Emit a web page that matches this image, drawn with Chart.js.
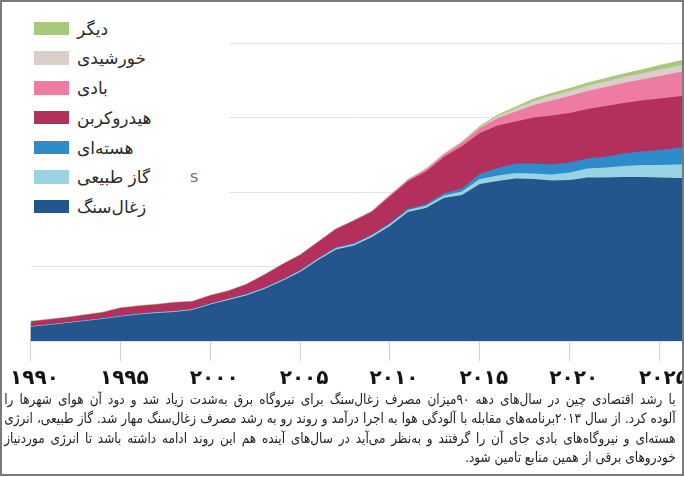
<!DOCTYPE html>
<html><head><meta charset="utf-8">
<script src="https://cdn.jsdelivr.net/npm/chart.js@4"></script>
<style>
html,body{margin:0;padding:0;background:#fff;}
#wrap{position:relative;width:684px;height:477px;overflow:hidden;background:#fff;font-family:"DejaVu Sans",sans-serif;}
#frame{position:absolute;left:0;top:0;width:684px;height:476px;box-sizing:border-box;border:2px solid #7a7a7a;pointer-events:none;z-index:5;}
#c{position:absolute;left:0;top:0;}
#legend{position:absolute;left:0;top:0;width:229px;height:236px;background:#fff;z-index:2;}
.lbox{position:absolute;left:34px;width:35px;height:13.5px;}
.ltxt{position:absolute;left:77px;font-family:"DejaVu Sans",sans-serif;font-size:17px;line-height:22px;color:#2a2a2a;direction:rtl;white-space:nowrap;}
#s{position:absolute;left:190px;top:170px;font-size:13px;color:#666;font-family:"DejaVu Sans",sans-serif;}
#cap{position:absolute;right:8px;top:390px;transform-origin:right top;direction:rtl;z-index:3;}
.cl{font-family:"DejaVu Sans",sans-serif;font-size:14px;line-height:19.3px;color:#1e1e1e;white-space:normal;}
.cl.j{text-align:justify;text-align-last:justify;}
.cl.r{text-align:right;}
</style>
</head><body>
<div id="wrap">
<canvas id="c" width="684" height="477"></canvas>
<div id="legend"></div>
<div id="cap"></div>
<div id="frame"></div>
</div>
<script>
// ---- data (TWh) ----
const years = [1990,1991,1992,1993,1994,1995,1996,1997,1998,1999,2000,2001,2002,2003,2004,2005,2006,2007,2008,2009,2010,2011,2012,2013,2014,2015,2016,2017,2018,2019,2020,2021,2022,2023,2024,2025,2026,2027];
const coal    = [384,430,483,537,591,658,712,752,779,832,980,1101,1222,1396,1611,1853,2175,2457,2564,2792,3088,3464,3571,3840,3920,4215,4296,4363,4350,4309,4323,4390,4390,4403,4403,4390,4377,4377];
const gas     = [11,11,11,13,13,16,16,19,19,21,21,24,24,27,27,32,35,40,40,48,54,54,59,67,94,134,148,148,148,161,201,242,269,295,322,336,362,376];
const nuclear = [0,0,0,0,8,8,8,8,8,8,8,8,13,13,13,13,13,19,19,19,27,32,40,54,81,134,201,255,269,269,269,269,295,336,362,403,443,470];
const hydro   = [129,137,137,148,153,204,204,201,228,199,212,209,258,336,403,411,435,491,604,612,720,741,883,977,1130,1101,1141,1128,1235,1316,1329,1329,1356,1356,1369,1383,1383,1396];
const wind    = [0,0,0,0,0,0,0,0,0,0,0,0,0,0,0,0,0,0,8,13,27,40,54,67,94,134,201,269,336,403,456,483,510,537,564,604,644,671];
const solar   = [0,0,0,0,0,0,0,0,0,0,0,0,0,0,0,0,0,0,0,0,0,0,5,8,13,27,54,81,107,134,134,148,148,161,161,175,175,188];
const other   = [19,19,19,19,19,19,19,19,19,19,19,19,19,19,19,19,19,19,19,19,19,19,19,21,24,32,40,54,67,67,81,81,94,94,107,121,134,142];
const tickYears = [1990,1995,2000,2005,2010,2015,2020,2025];
const seriesLabels = ['زغال‌سنگ','گاز طبیعی','هسته‌ای','هیدروکربن','بادی','خورشیدی','دیگر'];
const seriesColors = ['#24558c','#97d3e2','#2f8ccb','#b3305d','#ee7ba1','#dacfc8','#a7c97a'];
const seriesValues = [coal,gas,nuclear,hydro,wind,solar,other];
const captionLines = [
 'با رشد اقتصادی چین در سال‌های دهه ۹۰میزان مصرف زغال‌سنگ برای نیروگاه برق به‌شدت زیاد شد و دود آن هوای شهر‌ها را',
 'آلوده کرد. از سال ۲۰۱۳برنامه‌های مقابله با آلودگی هوا به اجرا درآمد و روند رو به رشد مصرف زغال‌سنگ مهار شد. گاز طبیعی، انرژی',
 'هسته‌ای و نیروگاه‌های بادی جای آن را گرفتند و به‌نظر می‌آید در سال‌های آینده هم این روند ادامه داشته باشد تا انرژی موردنیاز',
 'خودروهای برقی از همین منابع تامین شود.'
];

const faDigits = '۰۱۲۳۴۵۶۷۸۹';
const toFa = n => String(n).replace(/[0-9]/g, d => faDigits[+d]);

const datasets = seriesLabels.map((lab, i) => ({
  label: lab,
  data: years.map((y, k) => ({x: y, y: seriesValues[i][k]})),
  backgroundColor: seriesColors[i],
  borderColor: seriesColors[i],
  borderWidth: 0,
  pointRadius: 0,
  fill: 'origin',
  tension: 0
}));

new Chart(document.getElementById('c'), {
  type: 'line',
  data: {datasets},
  options: {
    responsive: false,
    animation: false,
    layout: {padding: {left: 30.5, right: 2, top: 43, bottom: 86}},
    plugins: {legend: {display: false}, tooltip: {enabled: false}},
    scales: {
      x: {
        type: 'linear', min: 1990, max: 2026.25,
        afterBuildTicks: s => { s.ticks = tickYears.map(v => ({value: v})); },
        afterFit: s => { s.height = 50; s.paddingLeft = 0; s.paddingRight = 0; },
        grid: {display: true, drawOnChartArea: false, drawTicks: true, tickLength: 20, color: '#cfcfcf', tickColor: '#cfcfcf'},
        border: {display: false},
        ticks: {autoSkip: false, maxRotation: 0, padding: 6, labelOffset: 4, color: '#141414',
          font: {family: 'DejaVu Sans', size: 20, weight: 'bold'},
          callback: v => toFa(v)}
      },
      y: {
        stacked: true, min: 0, max: 8000,
        afterFit: s => { s.width = 0; s.paddingTop = 0; s.paddingBottom = 0; },
        ticks: {display: false, stepSize: 2000},
        grid: {color: '#e3e3e3', drawTicks: false},
        border: {display: false}
      }
    }
  }
});

// legend (top row = last series)
const lg = document.getElementById('legend');
for (let r = 0; r < seriesLabels.length; r++) {
  const i = seriesLabels.length - 1 - r;
  const top = 21.7 + r * 29.7;
  const b = document.createElement('div');
  b.className = 'lbox'; b.style.top = top + 'px'; b.style.background = seriesColors[i];
  lg.appendChild(b);
  const t = document.createElement('div');
  t.className = 'ltxt'; t.style.top = (top - 4) + 'px'; t.textContent = seriesLabels[i];
  lg.appendChild(t);
}
const s = document.createElement('div'); s.id = 's'; s.textContent = 'S'; lg.appendChild(s);

// caption
const cap = document.getElementById('cap');
const widths = captionLines.map(line => {
  const sp = document.createElement('span');
  sp.className = 'cl'; sp.style.whiteSpace = 'nowrap'; sp.textContent = line;
  sp.style.position = 'absolute'; sp.style.visibility = 'hidden';
  document.getElementById('wrap').appendChild(sp); const w = sp.getBoundingClientRect().width; sp.remove(); return w;
});
const target = 668;
const maxW = Math.max(...widths.slice(0, 3));
const sc = Math.min(1, target / maxW);
cap.style.width = (target / sc + 4) + 'px';
cap.style.transform = 'scaleX(' + sc + ')';
captionLines.forEach((line, k) => {
  const d = document.createElement('div');
  d.className = 'cl ' + (k < captionLines.length - 1 ? 'j' : 'r');
  d.textContent = line;
  cap.appendChild(d);
});
</script>
</body></html>
